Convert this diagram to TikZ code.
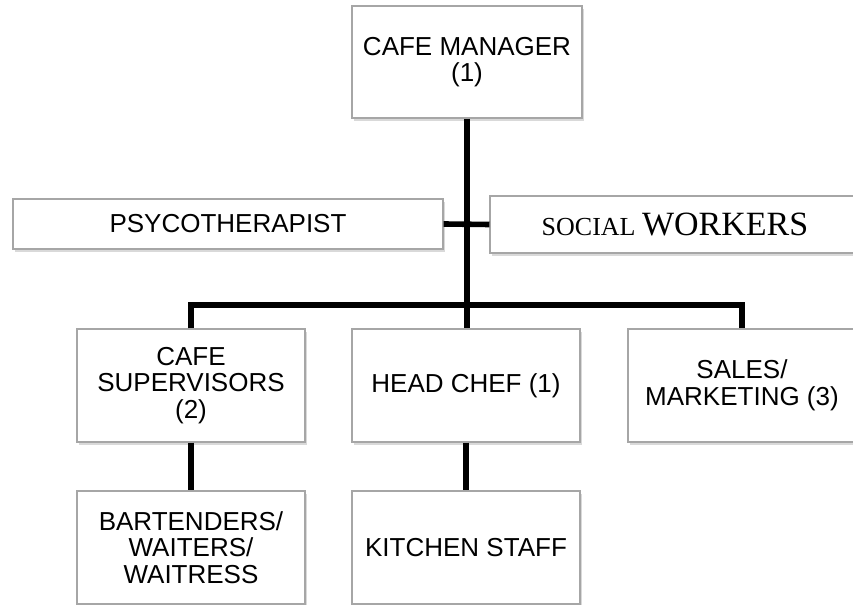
\documentclass[tikz,border=0pt]{standalone}
\usepackage{fontspec}
\setmainfont{Liberation Sans}
\newfontfamily\timesfont{Liberation Serif}
\usepackage{tikz}
\usetikzlibrary{shadows}

\begin{document}
\begin{tikzpicture}[x=0.75pt, y=-0.75pt,
    font=\fontsize{19.5}{20}\selectfont,
    post/.style={draw=gray!70, line width=0.8pt, fill=white, align=center,
      inner sep=0pt, drop shadow={shadow xshift=1.2pt, shadow yshift=-2pt, opacity=0.3}},
    unit/.style={post, minimum width=171pt, minimum height=84.75pt},
    link/.style={line width=4.2pt}]
  \clip (0,0) rectangle (853,605);

  % top and staff
  \node[post, minimum width=172.5pt, minimum height=84pt] (mgr) at (467,62) {CAFE MANAGER\\(1)};
  \node[post, minimum width=322.5pt, minimum height=37.5pt] (psy) at (228,224) {PSYCOTHERAPIST};
  \node[post, minimum width=277.5pt, minimum height=42.75pt] (soc) at (675,224.5)
    {\timesfont{\fontsize{19.5}{20}\selectfont SOCIAL} {\fontsize{25.5}{26}\selectfont WORKERS}};

  % second level
  \node[unit] (sup) at (191,385.5) {CAFE\\SUPERVISORS\\(2)};
  \node[unit] (chef) at (466,385.5) {HEAD CHEF (1)};
  \node[unit] (sales) at (742,385.5) {SALES/\\MARKETING (3)};

  % third level
  \node[unit] (bar) at (191,547.5) {BARTENDERS/\\WAITERS/\\WAITRESS};
  \node[unit] (kit) at (466,547.5) {KITCHEN STAFF};

  \coordinate (bus) at (467,305);
  \draw[link] (mgr.south -| bus) -- (bus);
  \draw[link] (psy.east) -- (soc.west);
  \draw[link] (sup.north) |- (bus) -| (sales.north);
  \draw[link] (bus) -- (chef.north -| bus);
  \draw[link] (sup.south) -- (bar.north);
  \draw[link] (chef.south) -- (kit.north);
\end{tikzpicture}
\end{document}
